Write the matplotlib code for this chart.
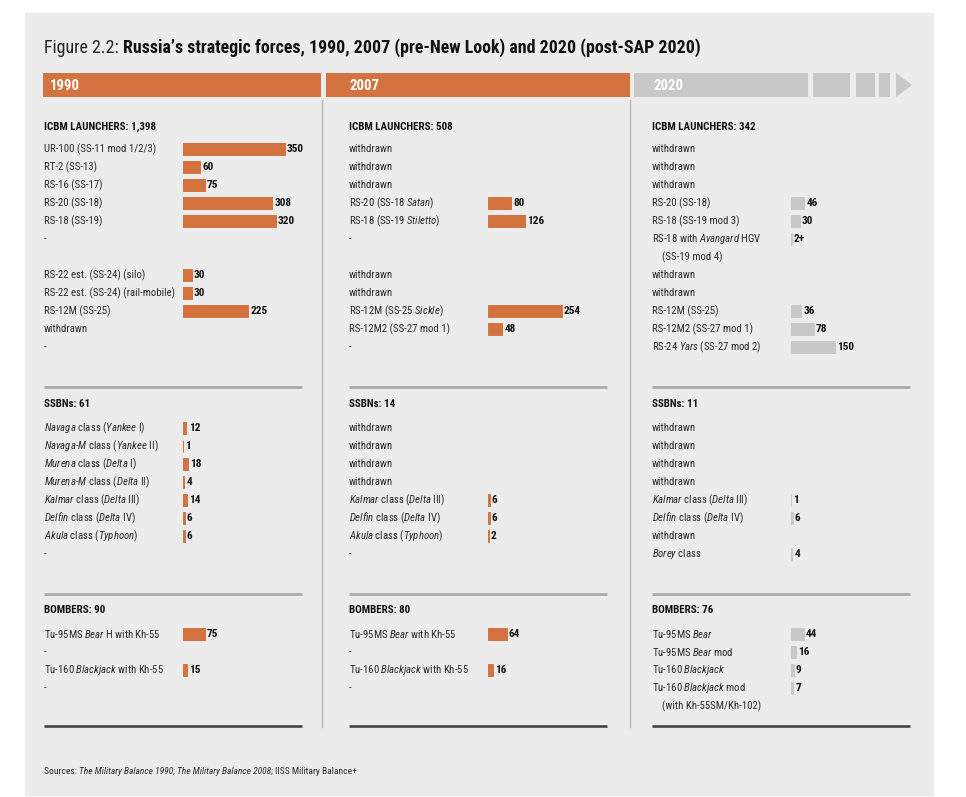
import matplotlib
matplotlib.use("Agg")
import matplotlib.pyplot as plt
from matplotlib.patches import Rectangle, Polygon
from matplotlib import font_manager as fm

# ---------------- data ----------------
years = ["1990", "2007", "2020"]
icbm_totals = ["1,398", "508", "342"]
ssbn_totals = ["61", "14", "11"]
bomber_totals = ["90", "80", "76"]

icbm_labels_1990 = ["UR-100 (SS-11 mod 1/2/3)", "RT-2 (SS-13)", "RS-16 (SS-17)", "RS-20 (SS-18)",
                    "RS-18 (SS-19)", "-", "", "RS-22 est. (SS-24) (silo)",
                    "RS-22 est. (SS-24) (rail-mobile)", "RS-12M (SS-25)", "withdrawn", "-"]
icbm_values_1990 = [350, 60, 75, 308, 320, None, None, 30, 30, 225, None, None]

icbm_labels_2007 = ["withdrawn", "withdrawn", "withdrawn", "RS-20 (SS-18 *Satan*)",
                    "RS-18 (SS-19 *Stiletto*)", "-", "", "withdrawn", "withdrawn",
                    "RS-12M (SS-25 *Sickle*)", "RS-12M2 (SS-27 mod 1)", "-"]
icbm_values_2007 = [None, None, None, 80, 126, None, None, None, None, 254, 48, None]

icbm_labels_2020 = ["withdrawn", "withdrawn", "withdrawn", "RS-20 (SS-18)", "RS-18 (SS-19 mod 3)",
                    "RS-18 with *Avangard* HGV", "    (SS-19 mod 4)", "withdrawn", "withdrawn",
                    "RS-12M (SS-25)", "RS-12M2 (SS-27 mod 1)", "RS-24 *Yars* (SS-27 mod 2)"]
icbm_values_2020 = [None, None, None, 46, 30, 2, None, None, None, 36, 78, 150]
icbm_valtext_2020 = [None, None, None, "46", "30", "2+", None, None, None, "36", "78", "150"]

ssbn_labels_1990 = ["*Navaga* class (*Yankee* I)", "*Navaga*-*M* class (*Yankee* II)",
                    "*Murena* class (*Delta* I)", "*Murena*-*M* class (*Delta* II)",
                    "*Kalmar* class (*Delta* III)", "*Delfin* class (*Delta* IV)",
                    "*Akula* class (*Typhoon*)", "-"]
ssbn_values_1990 = [12, 1, 18, 4, 14, 6, 6, None]

ssbn_labels_2007 = ["withdrawn", "withdrawn", "withdrawn", "withdrawn",
                    "*Kalmar* class (*Delta* III)", "*Delfin* class (*Delta* IV)",
                    "*Akula* class (*Typhoon*)", "-"]
ssbn_values_2007 = [None, None, None, None, 6, 6, 2, None]

ssbn_labels_2020 = ["withdrawn", "withdrawn", "withdrawn", "withdrawn",
                    "*Kalmar* class (*Delta* III)", "*Delfin* class (*Delta* IV)",
                    "withdrawn", "*Borey* class"]
ssbn_values_2020 = [None, None, None, None, 1, 6, None, 4]

bomber_labels_1990 = ["Tu-95MS *Bear* H with Kh-55", "-", "Tu-160 *Blackjack* with Kh-55", "-", ""]
bomber_values_1990 = [75, None, 15, None, None]

bomber_labels_2007 = ["Tu-95MS *Bear* with Kh-55", "-", "Tu-160 *Blackjack* with Kh-55", "-", ""]
bomber_values_2007 = [64, None, 16, None, None]

bomber_labels_2020 = ["Tu-95MS *Bear*", "Tu-95MS *Bear* mod", "Tu-160 *Blackjack*",
                      "Tu-160 *Blackjack* mod", "    (with Kh-55SM/Kh-102)"]
bomber_values_2020 = [44, 16, 9, 7, None]

source_parts = [("Sources: ", "normal"), ("The Military Balance 1990", "italic"), ("; ", "normal"),
                ("The Military Balance 2008", "italic"), ("; IISS Military Balance+", "normal")]

# ---------------- font choice ----------------
ttf = fm.fontManager.ttflist
names = sorted({f.name for f in ttf})
FONT = None
STRETCH = "normal"
for pref in ["Liberation Sans Narrow", "Roboto Condensed", "Noto Sans Condensed",
             "Open Sans Condensed", "DejaVu Sans Condensed", "Arial Narrow"]:
    if pref in names:
        FONT = pref
        break
if FONT is None:
    for n in names:
        if ("Condensed" in n or "Narrow" in n) and not any(k in n for k in ["Extra", "Ultra", "Semi", "Mono"]):
            FONT = n
            break
if FONT is None:
    for f in ttf:
        if f.stretch == "condensed" and f.name in ("Noto Sans", "DejaVu Sans", "Open Sans", "Roboto"):
            FONT, STRETCH = f.name, "condensed"
            break
if FONT is None:
    FONT = "Liberation Sans" if "Liberation Sans" in names else "DejaVu Sans"

plt.rcParams["font.family"] = [FONT, "DejaVu Sans"]
plt.rcParams["font.stretch"] = STRETCH
plt.rcParams["mathtext.fontset"] = "custom"
plt.rcParams["mathtext.rm"] = FONT
plt.rcParams["mathtext.it"] = FONT + ":italic"
plt.rcParams["mathtext.bf"] = FONT + ":bold"

ORANGE = "#D3733F"
GRAYBAR = "#C8C8C8"
PANEL = "#ECECEC"
TXT = "#2b2b2b"
col_colors = [ORANGE, ORANGE, GRAYBAR]

W, H = 966, 797
fig = plt.figure(figsize=(W / 100, H / 100), dpi=100)
fig.patch.set_facecolor("white")
renderer = fig.canvas.get_renderer()


def fit_size(s, base, target, weight="normal", lo=0.8):
    t = fig.text(0, 0, s, fontsize=base, fontweight=weight)
    w = t.get_window_extent(renderer).width
    t.remove()
    f = target / w
    f = max(lo, min(1.15, f))
    return base * f


FS_TITLE = fit_size("Figure 2.2: Russia\u2019s strategic forces, 1990, 2007 (pre-New Look) and 2020 (post-SAP 2020)",
                    13, 656, "bold", lo=0.78)
FS_LAB = fit_size("UR-100 (SS-11 mod 1/2/3)", 7.6, 111, lo=0.86)
FS_VAL = fit_size("350", 7.6, 17, "bold", lo=0.86)
FS_HEAD = fit_size("ICBM LAUNCHERS: 1,398", 9.5, 113, "bold", lo=0.8)
FS_SRC = fit_size("".join(p for p, _ in source_parts), 7.2, 316, lo=0.75)
FS_YEAR = fit_size("1990", 10, 30, "bold", lo=0.85)

bg = fig.add_axes([0, 0, 1, 1])
bg.set_xlim(0, W)
bg.set_ylim(H, 0)
bg.axis("off")

bg.add_patch(Rectangle((25, 13), 908, 782, color=PANEL, zorder=0))

# title
t1 = bg.text(44, 53, "Figure 2.2: ", fontsize=FS_TITLE, color="#222", va="baseline")
bg.annotate("Russia\u2019s strategic forces, 1990, 2007 (pre-New Look) and 2020 (post-SAP 2020)",
            xy=(1, 0), xycoords=t1, va="bottom", ha="left", fontsize=FS_TITLE,
            fontweight="bold", color="#111")

# header bars
bg.add_patch(Rectangle((43, 73), 278, 24, color=ORANGE, lw=0))
bg.add_patch(Rectangle((326, 73), 304, 24, color=ORANGE, lw=0))
bg.add_patch(Rectangle((634, 73), 174, 24, color=GRAYBAR, lw=0))
bg.add_patch(Rectangle((813, 73), 37, 24, color=GRAYBAR, lw=0))
bg.add_patch(Rectangle((856, 73), 19, 24, color=GRAYBAR, lw=0))
bg.add_patch(Rectangle((879, 73), 11, 24, color=GRAYBAR, lw=0))
bg.add_patch(Polygon([(896, 73), (912, 85), (896, 97)], closed=True, color=GRAYBAR, lw=0))

col_x = [44, 349, 652]
year_x = [50, 349, 653]
for x0, yr in zip(year_x, years):
    bg.text(x0, 86, yr, color="white", fontweight="bold", fontsize=FS_YEAR, va="center")

# vertical separators
for xs in [322, 630]:
    bg.plot([xs, xs], [100, 727], color="#B4B4B4", lw=1)

# horizontal dividers
DIVW = 258
for x0 in col_x:
    bg.plot([x0, x0 + DIVW], [387, 387], color="#A9A9A9", lw=2, solid_capstyle="butt")
    bg.plot([x0, x0 + DIVW], [594, 594], color="#A9A9A9", lw=2, solid_capstyle="butt")
    bg.plot([x0, x0 + DIVW], [726, 726], color="#3c3c3c", lw=1.8, solid_capstyle="butt")

# section headers
for x0, a, b, c in zip(col_x, icbm_totals, ssbn_totals, bomber_totals):
    bg.text(x0, 127, f"ICBM LAUNCHERS: {a}", fontweight="bold", fontsize=FS_HEAD, va="center", color="#111")
    bg.text(x0, 404, f"SSBNs: {b}", fontweight="bold", fontsize=FS_HEAD, va="center", color="#111")
    bg.text(x0, 610, f"BOMBERS: {c}", fontweight="bold", fontsize=FS_HEAD, va="center", color="#111")

# sources (chained pieces)
prev = bg.text(44, 774, source_parts[0][0], fontsize=FS_SRC, va="baseline", color=TXT)
for txt, sty in source_parts[1:]:
    prev = bg.annotate(txt, xy=(1, 0), xycoords=prev, va="bottom", ha="left",
                       fontsize=FS_SRC, fontstyle=sty, color=TXT)


def to_math(s):
    parts = s.split("*")
    out = []
    for i, p in enumerate(parts):
        if i % 2 == 1 and p:
            out.append(r"$\mathit{" + p.replace(" ", r"\ ") + "}$")
        else:
            out.append(p)
    return "".join(out)


SCALE = 0.29       # pixels per unit
BAR_OFF = 139      # pixel offset from label start to bar start
ROW = 18


def section(x0, first_y, labels, values, color, valtext=None):
    n = len(labels)
    top = first_y - ROW / 2
    ax = fig.add_axes([x0 / W, 1 - (top + n * ROW) / H, DIVW / W, n * ROW / H])
    ax.set_xlim(-BAR_OFF / SCALE, (DIVW - BAR_OFF) / SCALE)
    ax.set_ylim(n - 0.5, -0.5)
    ax.axis("off")
    ax.patch.set_alpha(0)
    tr = ax.get_yaxis_transform()
    for i, (lab, v) in enumerate(zip(labels, values)):
        if lab:
            ax.text(0, i, to_math(lab), transform=tr, fontsize=FS_LAB, va="center", ha="left", color=TXT)
        if v is not None:
            ax.barh(i, v, left=0, height=0.66, color=color, edgecolor=color, linewidth=0.7)
            vt = valtext[i] if valtext else str(v)
            ax.annotate(vt, xy=(v, i), xytext=(1.6, 0), textcoords="offset points",
                        va="center", ha="left", fontsize=FS_VAL, fontweight="bold", color="#111")


icbm = [(icbm_labels_1990, icbm_values_1990, None),
        (icbm_labels_2007, icbm_values_2007, None),
        (icbm_labels_2020, icbm_values_2020, icbm_valtext_2020)]
ssbn = [(ssbn_labels_1990, ssbn_values_1990), (ssbn_labels_2007, ssbn_values_2007),
        (ssbn_labels_2020, ssbn_values_2020)]
bomb = [(bomber_labels_1990, bomber_values_1990), (bomber_labels_2007, bomber_values_2007),
        (bomber_labels_2020, bomber_values_2020)]

for c in range(3):
    x0 = col_x[c]
    labs, vals, vt = icbm[c]
    section(x0, 149, labs, vals, col_colors[c], vt)
    section(x0, 428, ssbn[c][0], ssbn[c][1], col_colors[c])
    section(x0, 634, bomb[c][0], bomb[c][1], col_colors[c])

fig.savefig("out.png", dpi=100, facecolor="white")
